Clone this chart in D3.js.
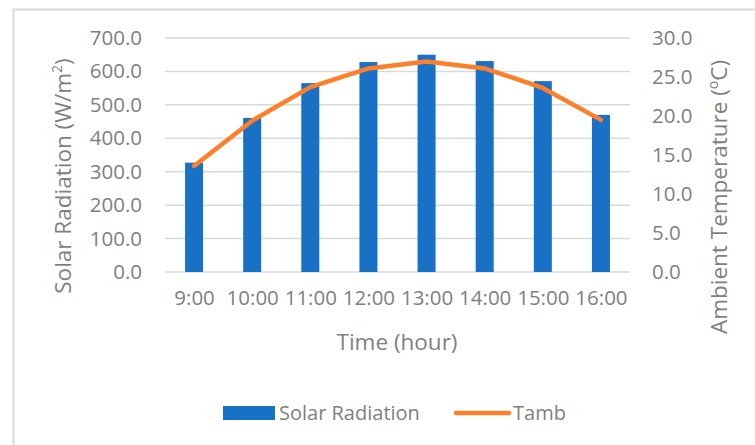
<!DOCTYPE html>
<html>
<head>
<meta charset="utf-8">
<script src="https://cdn.jsdelivr.net/npm/d3@7"></script>
<style>
  body { margin: 0; background: #fff; }
  svg text { font-family: "Open Sans", sans-serif; fill: #7f7f7f; }
</style>
</head>
<body>
<svg width="755" height="445"></svg>
<script>
var hours = ['9:00', '10:00', '11:00', '12:00', '13:00', '14:00', '15:00', '16:00'];
var solarRadiation = [327, 461, 565, 628, 650, 631, 571, 470];
var tamb = [13.6, 19.4, 23.7, 26.1, 27.0, 26.1, 23.6, 19.5];
var leftTicks = [0, 100, 200, 300, 400, 500, 600, 700];
var rightTicks = [0, 5, 10, 15, 20, 25, 30];

var svg = d3.select('svg');
var plotLeft = 165, plotRight = 630, plotTop = 38, plotBottom = 272;

// chart frame
svg.append('rect')
  .attr('x', 13.5).attr('y', 9.5)
  .attr('width', 760).attr('height', 460)
  .attr('fill', 'none').attr('stroke', '#d9d9d9').attr('stroke-width', 2);

var x = d3.scaleBand().domain(hours).range([plotLeft, plotRight]).paddingInner(0.69).paddingOuter(0.345);
var xc = d3.scalePoint().domain(hours).range([plotLeft, plotRight]).padding(0.5);
var yL = d3.scaleLinear().domain([0, 700]).range([plotBottom, plotTop]);
var yR = d3.scaleLinear().domain([0, 30]).range([plotBottom, plotTop]);

// grid lines
svg.append('g').selectAll('line').data(leftTicks).enter()
  .append('line')
  .attr('x1', plotLeft).attr('x2', plotRight)
  .attr('y1', function(d) { return yL(d); })
  .attr('y2', function(d) { return yL(d); })
  .attr('stroke', '#d9d9d9').attr('stroke-width', 1.5);

// bars
svg.append('g').selectAll('rect').data(solarRadiation).enter()
  .append('rect')
  .attr('x', function(d, i) { return x(hours[i]); })
  .attr('y', function(d) { return yL(d); })
  .attr('width', x.bandwidth())
  .attr('height', function(d) { return yL(0) - yL(d); })
  .attr('fill', '#1971c6');

// temperature line
var line = d3.line()
  .x(function(d, i) { return xc(hours[i]); })
  .y(function(d) { return yR(d); });
svg.append('path').datum(tamb)
  .attr('d', line)
  .attr('fill', 'none').attr('stroke', '#fd7f2a')
  .attr('stroke-width', 4.5)
  .attr('stroke-linecap', 'round').attr('stroke-linejoin', 'round');

// left axis
var axL = d3.axisLeft(yL).tickValues(leftTicks).tickSize(0).tickPadding(0)
  .tickFormat(function(d) { return d3.format('.1f')(d); });
var gL = svg.append('g').attr('transform', 'translate(142,0)').call(axL);
gL.select('.domain').remove();
gL.selectAll('text').attr('font-size', 20.5).attr('fill', '#7f7f7f');

// right axis
var axR = d3.axisRight(yR).tickValues(rightTicks).tickSize(0).tickPadding(0)
  .tickFormat(function(d) { return d3.format('.1f')(d); });
var gR = svg.append('g').attr('transform', 'translate(652,0)').call(axR);
gR.select('.domain').remove();
gR.selectAll('text').attr('font-size', 20.5).attr('fill', '#7f7f7f');

// x axis
var axX = d3.axisBottom(xc).tickSize(0).tickPadding(0);
var gX = svg.append('g').attr('transform', 'translate(0,' + (plotBottom + 18) + ')').call(axX);
gX.select('.domain').remove();
gX.selectAll('text').attr('font-size', 20.5).attr('fill', '#7f7f7f');

// axis titles
svg.append('text')
  .attr('x', 397).attr('y', 350)
  .attr('text-anchor', 'middle').attr('font-size', 22.5)
  .text('Time (hour)');

var tl = svg.append('text')
  .attr('transform', 'translate(71,176) rotate(-90)')
  .attr('text-anchor', 'middle').attr('font-size', 22.5);
tl.append('tspan').text('Solar Radiation (W/m');
tl.append('tspan').attr('font-size', 14).attr('dy', -9).text('2');
tl.append('tspan').attr('dy', 9).text(')');

var tr = svg.append('text')
  .attr('transform', 'translate(727,197) rotate(-90)')
  .attr('text-anchor', 'middle').attr('font-size', 22.5);
tr.append('tspan').text('Ambient Temperature (');
tr.append('tspan').attr('font-size', 14).attr('dy', -9).text('o');
tr.append('tspan').attr('dy', 9).text('C)');

// legend
var lg = svg.append('g');
lg.append('rect').attr('x', 223).attr('y', 406).attr('width', 52).attr('height', 14).attr('fill', '#1971c6');
lg.append('text').attr('x', 279).attr('y', 420).attr('font-size', 20).text('Solar Radiation');
lg.append('line').attr('x1', 456).attr('x2', 509).attr('y1', 413).attr('y2', 413)
  .attr('stroke', '#fd7f2a').attr('stroke-width', 4.5).attr('stroke-linecap', 'round');
lg.append('text').attr('x', 513).attr('y', 420).attr('font-size', 20).text('Tamb');
</script>
</body>
</html>
